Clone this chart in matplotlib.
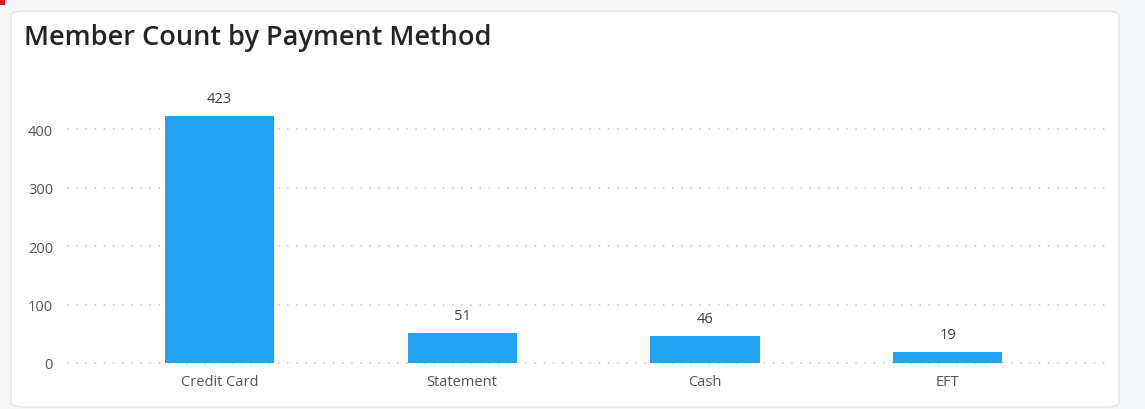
import matplotlib.pyplot as plt
from matplotlib.patches import FancyBboxPatch, Rectangle

# Données
methods = ["Credit Card", "Statement", "Cash", "EFT"]
counts = [423, 51, 46, 19]
yticks = [0, 100, 200, 300, 400]

W, H = 1145, 410
fig = plt.figure(figsize=(W / 100, H / 100), dpi=100)
fig.patch.set_facecolor("#f5f6f8")

# carte blanche
card = FancyBboxPatch((11 / W, 2 / H), 1108 / W, 396 / H,
                      boxstyle="round,pad=0,rounding_size=0.012",
                      transform=fig.transFigure, facecolor="white",
                      edgecolor="#e3e4e6", linewidth=1.0, zorder=-2)
fig.patches.append(card)
fig.patches.append(Rectangle((0, 1 - 6 / H), 5 / W, 6 / H, transform=fig.transFigure,
                             facecolor="#e81123", edgecolor="none", zorder=-1))

fig.text(24 / W, 1 - 38 / H, "Member Count by Payment Method", fontsize=19.5,
         fontweight="semibold", family="Open Sans", color="#252423", va="center")

# axe principal
ax = fig.add_axes([67 / W, (H - 364) / H, (1110 - 67) / W, (364 - 72) / H])
ax.set_facecolor("none")
x = range(len(methods))
ax.bar(x, counts, width=0.45, color="#21a3f1", zorder=3)
for xi, v in zip(x, counts):
    ax.text(xi, v + 17, str(v), ha="center", va="bottom", fontsize=10.5,
            family="Open Sans", color="#404040")

ax.set_xlim(-0.628, 3.669)
ax.set_ylim(0, 500)
ax.set_yticks(yticks)
ax.set_xticks(list(x))
ax.set_xticklabels(methods)
for t in yticks:
    ax.axhline(t, color="#c4c4c4", linestyle=(0, (1, 5)), linewidth=1.1,
               zorder=0, clip_on=False)
ax.tick_params(length=0, labelsize=10.5, labelcolor="#555555")
for lbl in ax.get_xticklabels() + ax.get_yticklabels():
    lbl.set_family("Open Sans")
for s in ax.spines.values():
    s.set_visible(False)
ax.tick_params(axis="x", pad=8)
ax.tick_params(axis="y", pad=10)

plt.savefig("out.png", dpi=100, facecolor=fig.get_facecolor())
